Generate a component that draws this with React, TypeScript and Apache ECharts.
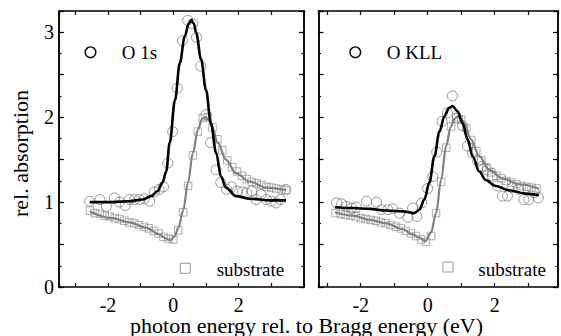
import React, { useEffect, useRef } from 'react';
import * as echarts from 'echarts';

// ---------- Left panel (O 1s) ----------
const o1sFitX = [-2.56, -1.86, -1.35, -0.94, -0.68, -0.48, -0.33, -0.22, -0.11, 0.05, 0.2, 0.35, 0.47, 0.55, 0.63, 0.7, 0.85, 1.0, 1.15, 1.31, 1.46, 1.61, 1.92, 2.34, 2.95, 3.45];
const o1sFitY = [1.0, 1.0, 1.01, 1.03, 1.07, 1.13, 1.23, 1.36, 1.7, 2.2, 2.64, 2.95, 3.1, 3.14, 3.1, 2.99, 2.68, 2.32, 1.93, 1.58, 1.3, 1.17, 1.07, 1.04, 1.02, 1.02];

const o1sDataX = [-2.56, -2.25, -2.05, -1.8, -1.65, -1.47, -1.35, -1.19, -1.04, -0.89, -0.73, -0.58, -0.43, -0.3, -0.17, -0.02, 0.12, 0.28, 0.44, 0.59, 0.71, 0.84, 1.0, 1.14, 1.31, 1.45, 1.63, 1.78, 1.96, 2.12, 2.25, 2.4, 2.53, 2.69, 2.85, 3.0, 3.14, 3.28, 3.44];
const o1sDataY = [1.01, 1.03, 0.95, 1.05, 1.0, 0.96, 1.03, 1.03, 1.03, 1.04, 1.01, 1.12, 1.15, 1.18, 1.46, 1.83, 2.34, 2.9, 3.14, 3.1, 2.94, 2.6, 2.03, 1.7, 1.38, 1.23, 1.15, 1.18, 1.13, 1.12, 1.11, 1.13, 1.03, 1.09, 1.03, 1.01, 0.99, 1.03, 1.15];

const subLFitX = [-2.56, -1.86, -1.35, -0.84, -0.43, -0.22, -0.1, 0.03, 0.16, 0.3, 0.45, 0.6, 0.75, 0.88, 0.98, 1.08, 1.18, 1.36, 1.61, 1.92, 2.34, 2.85, 3.45];
const subLFitY = [0.89, 0.81, 0.76, 0.7, 0.62, 0.57, 0.55, 0.59, 0.7, 0.9, 1.23, 1.58, 1.85, 1.98, 2.0, 1.97, 1.89, 1.7, 1.5, 1.34, 1.24, 1.17, 1.14];

const subLDataX = [-2.55, -2.4, -2.25, -2.1, -1.95, -1.8, -1.65, -1.5, -1.35, -1.2, -1.05, -0.9, -0.75, -0.6, -0.45, -0.3, -0.15, 0.0, 0.15, 0.3, 0.45, 0.6, 0.75, 0.9, 1.05, 1.2, 1.35, 1.5, 1.65, 1.8, 1.95, 2.1, 2.25, 2.4, 2.55, 2.7, 2.85, 3.0, 3.15, 3.3, 3.45];
const subLDataY = [0.9, 0.87, 0.86, 0.84, 0.83, 0.81, 0.8, 0.78, 0.76, 0.75, 0.73, 0.71, 0.69, 0.66, 0.63, 0.59, 0.57, 0.56, 0.67, 0.88, 1.19, 1.55, 1.83, 1.99, 2.0, 1.88, 1.74, 1.61, 1.49, 1.41, 1.36, 1.31, 1.27, 1.24, 1.22, 1.2, 1.18, 1.17, 1.16, 1.15, 1.14];

// ---------- Right panel (O KLL) ----------
const okllFitX = [-2.77, -2.23, -1.73, -1.24, -0.74, -0.4, -0.25, -0.1, 0.05, 0.2, 0.35, 0.5, 0.64, 0.74, 0.89, 1.04, 1.19, 1.34, 1.54, 1.73, 2.03, 2.43, 2.92, 3.32];
const okllFitY = [0.94, 0.93, 0.92, 0.9, 0.89, 0.87, 0.91, 1.03, 1.23, 1.54, 1.83, 2.01, 2.11, 2.13, 2.07, 1.93, 1.74, 1.54, 1.36, 1.26, 1.19, 1.14, 1.1, 1.08];

const okllDataX = [-2.72, -2.57, -2.42, -2.27, -2.13, -1.83, -1.53, -1.38, -1.19, -1.04, -0.84, -0.59, -0.45, -0.32, -0.18, 0.0, 0.15, 0.27, 0.43, 0.59, 0.74, 0.89, 1.04, 1.19, 1.34, 1.49, 1.63, 1.78, 1.93, 2.08, 2.23, 2.38, 2.52, 2.72, 2.87, 3.02, 3.17, 3.3];
const okllDataY = [0.99, 0.98, 0.95, 0.93, 0.94, 1.01, 1.0, 0.91, 0.91, 0.92, 0.87, 0.82, 0.93, 0.83, 0.99, 1.16, 1.3, 1.59, 1.95, 2.05, 2.25, 1.99, 1.9, 1.66, 1.58, 1.48, 1.42, 1.38, 1.31, 1.19, 1.07, 1.07, 1.17, 1.15, 1.03, 1.03, 1.11, 1.05];

const subRFitX = [-2.77, -2.23, -1.73, -1.24, -0.74, -0.45, -0.25, -0.07, 0.1, 0.25, 0.4, 0.55, 0.69, 0.8, 0.89, 0.98, 1.09, 1.29, 1.54, 1.83, 2.23, 2.72, 3.32];
const subRFitY = [0.88, 0.84, 0.79, 0.75, 0.68, 0.62, 0.58, 0.54, 0.64, 0.87, 1.26, 1.66, 1.89, 1.98, 2.01, 1.99, 1.93, 1.74, 1.54, 1.38, 1.28, 1.21, 1.16];

const subRDataX = [-2.75, -2.6, -2.45, -2.3, -2.15, -2.0, -1.85, -1.7, -1.55, -1.4, -1.25, -1.1, -0.95, -0.8, -0.65, -0.5, -0.35, -0.2, -0.05, 0.1, 0.25, 0.4, 0.55, 0.7, 0.85, 1.0, 1.15, 1.3, 1.45, 1.6, 1.75, 1.9, 2.05, 2.2, 2.35, 2.5, 2.65, 2.8, 2.95, 3.1, 3.25];
const subRDataY = [0.87, 0.86, 0.85, 0.84, 0.83, 0.81, 0.8, 0.79, 0.78, 0.76, 0.75, 0.73, 0.71, 0.69, 0.66, 0.63, 0.6, 0.56, 0.53, 0.6, 0.87, 1.24, 1.64, 1.89, 2.0, 1.97, 1.87, 1.73, 1.6, 1.49, 1.41, 1.35, 1.31, 1.28, 1.25, 1.23, 1.21, 1.19, 1.18, 1.17, 1.16];

// ---------- Axes / texts ----------
const yMin = 0;
const yMax = 3.25;
const xRangeLeft = [-3.5, 4];
const xRangeRight = [-3.26, 3.89];
const xTickLabels = ['-2', '0', '2'];
const yTickLabels = ['0', '1', '2', '3'];
const yTitle = 'rel. absorption';
const xTitle = 'photon energy rel. to Bragg energy (eV)';
const legendLeft = 'O 1s';
const legendRight = 'O KLL';
const legendSub = 'substrate';

const FONT = '"Liberation Serif", "DejaVu Serif", serif';

function zip(xs: number[], ys: number[]) {
  return xs.map((x, i) => [x, ys[i]]);
}

function xLabelFmt(v: number) {
  const r = Math.round(v);
  if (Math.abs(v - r) < 1e-6 && xTickLabels.indexOf(String(r)) >= 0) return String(r);
  return '';
}

function yLabelFmt(v: number) {
  const r = Math.round(v);
  if (Math.abs(v - r) < 1e-6 && yTickLabels.indexOf(String(r)) >= 0) return String(r);
  return '';
}

function xAx(grid: number, range: number[], pos: string, labels: boolean) {
  return {
    type: 'value',
    gridIndex: grid,
    position: pos,
    min: range[0],
    max: range[1],
    splitNumber: 7,
    minInterval: 1,
    maxInterval: 1,
    axisLine: { show: true, onZero: false, lineStyle: { color: '#000', width: 1.5 } },
    axisTick: { show: true, inside: true, length: 4, lineStyle: { color: '#000', width: 1.2 } },
    axisLabel: {
      show: labels,
      margin: 7.5,
      fontSize: 20,
      fontFamily: FONT,
      color: '#000',
      formatter: xLabelFmt,
      showMinLabel: true,
      showMaxLabel: true,
    },
    splitLine: { show: false },
  };
}

function yAx(grid: number, pos: string, interval: number, len: number, labels: boolean) {
  return {
    type: 'value',
    gridIndex: grid,
    position: pos,
    min: yMin,
    max: yMax,
    interval,
    axisLine: { show: true, onZero: false, lineStyle: { color: '#000', width: 1.5 } },
    axisTick: { show: true, inside: true, length: len, lineStyle: { color: '#000', width: 1.2 } },
    axisLabel: {
      show: labels,
      margin: 5,
      fontSize: 20,
      fontFamily: FONT,
      color: '#000',
      formatter: yLabelFmt,
    },
    splitLine: { show: false },
  };
}

function fitSeries(data: number[][], xi: number, yi: number, color: string, width: number, z: number) {
  return {
    type: 'line',
    xAxisIndex: xi,
    yAxisIndex: yi,
    data,
    showSymbol: false,
    symbol: 'none',
    smooth: 0.35,
    smoothMonotone: 'x',
    lineStyle: { color, width },
    z,
    silent: true,
  };
}

function markSeries(data: number[][], xi: number, yi: number, symbol: string, size: number, color: string, bw: number, z: number) {
  return {
    type: 'scatter',
    xAxisIndex: xi,
    yAxisIndex: yi,
    data,
    symbol,
    symbolSize: size,
    itemStyle: { color: 'rgba(0,0,0,0)', borderColor: color, borderWidth: bw },
    z,
    silent: true,
  };
}

export default function App() {
  const ref = useRef<HTMLDivElement>(null);

  useEffect(() => {
    if (!ref.current) return;
    const chart = echarts.init(ref.current, null, { renderer: 'svg' });

    const option: any = {
      animation: false,
      backgroundColor: '#fff',
      textStyle: { fontFamily: FONT },
      grid: [
        { left: 59, top: 11, width: 245, height: 276, containLabel: false },
        { left: 318.5, top: 11, width: 241, height: 276, containLabel: false },
      ],
      xAxis: [
        xAx(0, xRangeLeft, 'bottom', true),
        xAx(0, xRangeLeft, 'top', false),
        xAx(1, xRangeRight, 'bottom', true),
        xAx(1, xRangeRight, 'top', false),
      ],
      yAxis: [
        yAx(0, 'left', 0.5, 5, true),
        yAx(0, 'right', 0.5, 5, false),
        yAx(0, 'left', 0.25, 2.5, false),
        yAx(0, 'right', 0.25, 2.5, false),
        yAx(1, 'left', 0.5, 5, false),
        yAx(1, 'right', 0.5, 5, false),
        yAx(1, 'left', 0.25, 2.5, false),
        yAx(1, 'right', 0.25, 2.5, false),
      ],
      series: [
        markSeries(zip(subLDataX, subLDataY), 0, 0, 'rect', 7.5, '#999', 1, 2),
        markSeries(zip(o1sDataX, o1sDataY), 0, 0, 'circle', 10, '#707070', 0.9, 3),
        fitSeries(zip(subLFitX, subLFitY), 0, 0, '#808080', 2.2, 4),
        fitSeries(zip(o1sFitX, o1sFitY), 0, 0, '#000', 2.6, 5),

        markSeries(zip(subRDataX, subRDataY), 2, 4, 'rect', 7.5, '#999', 1, 2),
        markSeries(zip(okllDataX, okllDataY), 2, 4, 'circle', 10, '#707070', 0.9, 3),
        fitSeries(zip(subRFitX, subRFitY), 2, 4, '#808080', 2.2, 4),
        fitSeries(zip(okllFitX, okllFitY), 2, 4, '#000', 2.6, 5),
      ],
      graphic: [
        {
          type: 'text',
          x: 20,
          y: 153.5,
          rotation: Math.PI / 2,
          style: { text: yTitle, fontSize: 22, fontFamily: FONT, fill: '#000', align: 'center', verticalAlign: 'middle' },
        },
        {
          type: 'text',
          x: 306.5,
          y: 325.5,
          style: { text: xTitle, fontSize: 22, fontFamily: FONT, fill: '#000', align: 'center', verticalAlign: 'middle' },
        },
        {
          type: 'circle',
          shape: { cx: 90.5, cy: 52.2, r: 5.3 },
          style: { fill: 'none', stroke: '#000', lineWidth: 1.4 },
        },
        {
          type: 'text',
          x: 121.7,
          y: 52.5,
          style: { text: legendLeft, fontSize: 19, fontFamily: FONT, fill: '#000', align: 'left', verticalAlign: 'middle' },
        },
        {
          type: 'circle',
          shape: { cx: 355.3, cy: 52.2, r: 5.3 },
          style: { fill: 'none', stroke: '#000', lineWidth: 1.4 },
        },
        {
          type: 'text',
          x: 386.7,
          y: 52.5,
          style: { text: legendRight, fontSize: 19, fontFamily: FONT, fill: '#000', align: 'left', verticalAlign: 'middle' },
        },
        {
          type: 'rect',
          shape: { x: 180.3, y: 263.3, width: 10, height: 10 },
          style: { fill: 'none', stroke: '#999', lineWidth: 1 },
        },
        {
          type: 'text',
          x: 216.7,
          y: 269,
          style: { text: legendSub, fontSize: 19, fontFamily: FONT, fill: '#000', align: 'left', verticalAlign: 'middle' },
        },
        {
          type: 'rect',
          shape: { x: 443, y: 262, width: 10, height: 10 },
          style: { fill: 'none', stroke: '#999', lineWidth: 1 },
        },
        {
          type: 'text',
          x: 478.3,
          y: 269,
          style: { text: legendSub, fontSize: 19, fontFamily: FONT, fill: '#000', align: 'left', verticalAlign: 'middle' },
        },
      ],
    };

    chart.setOption(option);
    return () => chart.dispose();
  }, []);

  return (
    <div
      ref={ref}
      style={{ position: 'fixed', left: 0, top: 0, width: 561, height: 336, background: '#fff' }}
    />
  );
}
